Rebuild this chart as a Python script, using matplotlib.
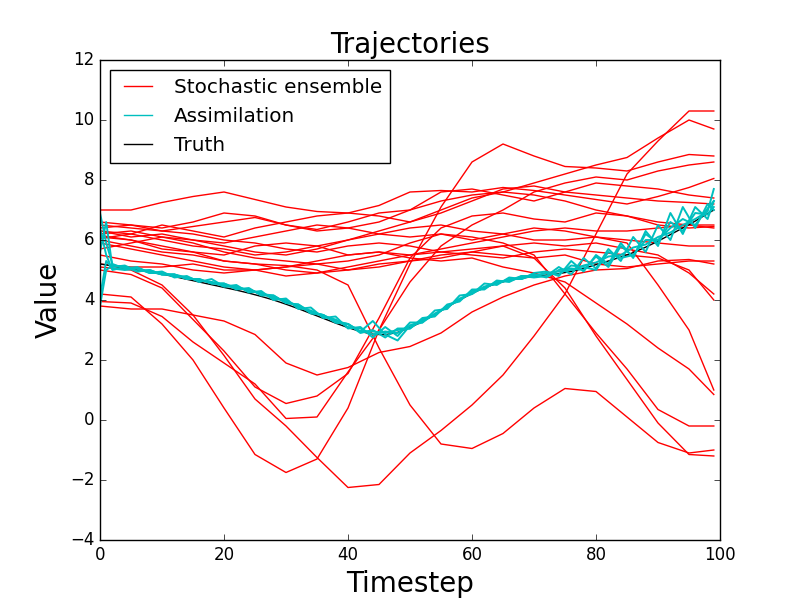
import matplotlib
matplotlib.use("Agg")
import matplotlib.pyplot as plt

plt.style.use("classic")

# ---- stochastic ensemble (read every 5 timesteps) ----
t_ens = list(range(0, 100, 5)) + [99]

ensemble = [
    [7.0, 7.0, 7.25, 7.45, 7.6, 7.35, 7.1, 6.95, 6.9, 7.15, 7.6, 7.65, 7.6, 7.75, 7.65, 7.5, 7.35, 7.2, 7.45, 7.75, 8.05],
    [6.5, 6.4, 6.3, 6.45, 6.6, 6.75, 6.5, 6.35, 6.6, 6.9, 7.0, 7.3, 7.5, 7.6, 7.9, 8.2, 8.5, 8.75, 9.4, 10.0, 9.7],
    [5.1, 5.0, 4.5, 3.5, 2.15, 0.7, -0.2, -1.25, -2.25, -2.15, -1.1, -0.35, 0.5, 1.5, 2.8, 4.2, 6.2, 8.2, 9.3, 10.3, 10.3],
    [4.2, 4.1, 3.2, 2.0, 0.4, -1.15, -1.75, -1.3, 0.4, 3.0, 5.2, 7.1, 8.6, 9.2, 8.8, 8.45, 8.4, 8.3, 8.6, 8.85, 8.8],
    [3.95, 3.9, 3.45, 2.6, 1.9, 1.2, 0.05, 0.1, 1.6, 3.0, 4.6, 5.8, 6.5, 7.0, 7.6, 7.9, 8.1, 8.0, 8.3, 8.5, 8.6],
    [5.0, 4.85, 4.4, 3.35, 2.3, 1.1, 0.55, 0.8, 1.55, 3.4, 5.4, 6.4, 6.8, 6.9, 6.7, 6.6, 6.9, 6.8, 6.5, 6.4, 6.45],
    [3.8, 3.7, 3.7, 3.5, 3.3, 2.85, 1.9, 1.5, 1.75, 2.25, 2.45, 2.9, 3.6, 4.1, 4.5, 4.8, 5.0, 5.05, 5.3, 5.35, 5.2],
    [6.0, 5.8, 5.6, 5.5, 5.3, 5.2, 5.15, 5.0, 4.5, 2.4, 0.5, -0.8, -0.95, -0.45, 0.4, 1.05, 0.95, 0.1, -0.75, -1.1, -1.0],
    [6.1, 6.0, 5.7, 5.6, 5.5, 5.8, 5.9, 5.8, 5.5, 5.6, 5.4, 5.3, 5.4, 5.1, 4.9, 4.6, 3.9, 3.2, 2.4, 1.7, 0.85],
    [6.3, 6.2, 6.0, 5.8, 5.7, 5.5, 5.6, 5.8, 6.0, 6.2, 6.4, 6.5, 6.3, 6.2, 6.0, 6.0, 6.1, 5.9, 4.5, 3.0, 1.0],
    [6.2, 6.3, 6.1, 5.9, 5.6, 5.4, 5.3, 5.2, 5.3, 5.5, 5.9, 6.2, 6.1, 5.9, 5.5, 4.2, 2.9, 1.7, 0.35, -0.2, -0.2],
    [5.5, 5.3, 5.2, 5.0, 4.9, 5.0, 5.1, 5.3, 5.5, 5.6, 5.5, 5.6, 5.7, 5.8, 5.4, 4.4, 2.8, 1.35, -0.1, -1.15, -1.2],
    [6.4, 6.5, 6.3, 6.2, 6.0, 5.9, 5.7, 5.6, 5.8, 5.9, 5.8, 5.6, 5.5, 5.4, 5.6, 5.7, 5.6, 5.5, 5.4, 5.0, 4.0],
    [5.2, 5.1, 5.1, 5.2, 5.0, 5.0, 5.1, 5.2, 5.0, 5.1, 5.3, 5.4, 5.6, 5.8, 5.9, 5.8, 5.9, 5.7, 5.5, 4.9, 4.2],
    [5.9, 5.7, 5.5, 5.3, 5.1, 5.0, 4.8, 4.9, 5.0, 5.2, 5.3, 5.5, 5.6, 5.5, 5.4, 5.5, 5.2, 5.1, 5.2, 5.3, 5.3],
    [6.15, 6.0, 5.8, 5.6, 5.3, 5.2, 5.0, 4.9, 5.1, 5.3, 5.5, 5.7, 5.9, 6.1, 6.3, 6.4, 6.3, 6.3, 6.4, 6.5, 6.5],
    [6.05, 6.2, 6.5, 6.3, 6.1, 6.4, 6.6, 6.8, 6.9, 6.8, 6.6, 6.9, 7.3, 7.7, 7.8, 7.6, 7.5, 7.4, 7.3, 7.25, 7.2],
    [6.3, 6.1, 6.2, 6.0, 5.9, 6.1, 6.3, 6.5, 6.4, 6.2, 6.1, 6.2, 6.0, 6.2, 6.4, 6.3, 6.1, 6.0, 5.9, 5.8, 5.8],
    [5.7, 5.9, 6.1, 6.0, 5.8, 5.6, 5.5, 5.7, 6.0, 6.3, 6.6, 7.0, 7.4, 7.6, 7.5, 7.3, 7.0, 6.8, 6.6, 6.5, 6.4],
    [6.6, 6.5, 6.4, 6.6, 6.9, 6.8, 6.5, 6.3, 6.4, 6.6, 7.0, 7.6, 7.7, 7.5, 7.3, 7.6, 7.9, 7.8, 7.7, 7.5, 7.4],
]

# ---- assimilation runs and truth ----
t_assim = [0, 1] + list(range(2, 71, 2)) + list(range(72, 99, 2)) + [99]

truth = [5.2, 5.17, 5.13, 5.06, 5.0, 4.93, 4.86, 4.78, 4.69, 4.6, 4.51, 4.42, 4.33,
         4.23, 4.12, 4.0, 3.86, 3.71, 3.55, 3.39, 3.23, 3.08, 2.95, 2.86, 2.84, 2.92,
         3.08, 3.28, 3.52, 3.76, 4.0, 4.22, 4.41, 4.55, 4.66, 4.73, 4.78,
         4.83, 4.88, 4.95, 5.05, 5.18, 5.3, 5.43, 5.58, 5.76, 5.96, 6.18, 6.4, 6.63, 6.88, 7.0]

assim = [
    [6.9, 5.9, 5.2, 5.05, 5.1, 4.9, 4.95, 4.75, 4.8, 4.6, 4.7, 4.45, 4.5,
     4.25, 4.3, 4.0, 4.05, 3.7, 3.75, 3.4, 3.45, 3.05, 3.1, 2.75, 3.1, 2.8,
     3.25, 3.25, 3.65, 3.7, 4.15, 4.2, 4.55, 4.5, 4.75, 4.7, 4.9,
     4.95, 4.8, 5.3, 4.95, 5.5, 5.2, 5.9, 5.4, 6.3, 5.8, 6.9, 6.2, 7.1, 6.7, 7.3],
    [3.8, 5.0, 5.15, 5.1, 4.95, 5.0, 4.85, 4.85, 4.7, 4.7, 4.55, 4.55, 4.35,
     4.4, 4.15, 4.15, 3.9, 3.85, 3.55, 3.5, 3.25, 3.2, 2.9, 3.0, 2.75, 3.05,
     3.05, 3.4, 3.45, 3.85, 3.95, 4.35, 4.35, 4.65, 4.6, 4.8, 4.75,
     4.8, 5.1, 4.85, 5.4, 5.05, 5.7, 5.3, 6.1, 5.6, 6.5, 6.0, 7.1, 6.4, 7.2, 7.0],
    [6.4, 5.5, 5.0, 5.1, 5.05, 4.95, 4.85, 4.85, 4.75, 4.65, 4.6, 4.5, 4.4,
     4.35, 4.2, 4.1, 3.95, 3.8, 3.6, 3.5, 3.3, 3.2, 2.95, 3.3, 2.85, 2.65,
     3.15, 3.3, 3.5, 3.8, 4.0, 4.3, 4.4, 4.6, 4.65, 4.8, 4.8,
     4.9, 4.95, 5.0, 5.15, 5.25, 5.45, 5.5, 5.75, 5.85, 6.1, 6.25, 6.5, 6.7, 6.95, 7.7],
    [4.1, 5.3, 5.05, 5.0, 5.05, 4.9, 4.9, 4.8, 4.75, 4.65, 4.6, 4.45, 4.45,
     4.3, 4.25, 4.05, 4.0, 3.75, 3.65, 3.45, 3.35, 3.1, 3.05, 2.85, 2.95, 2.9,
     3.15, 3.25, 3.55, 3.75, 4.05, 4.2, 4.45, 4.55, 4.7, 4.7, 4.85,
     4.75, 5.0, 5.05, 5.0, 5.45, 5.1, 5.8, 5.45, 6.2, 5.9, 6.6, 6.3, 6.9, 6.85, 7.1],
    [5.6, 6.6, 5.1, 5.15, 4.95, 5.0, 4.85, 4.85, 4.7, 4.7, 4.55, 4.55, 4.4,
     4.35, 4.2, 4.15, 3.9, 3.85, 3.6, 3.5, 3.25, 3.2, 2.95, 2.95, 2.9, 3.0,
     3.05, 3.35, 3.5, 3.8, 4.0, 4.25, 4.4, 4.6, 4.65, 4.75, 4.8,
     4.9, 4.85, 5.15, 5.1, 5.0, 5.6, 5.4, 5.5, 6.0, 6.0, 6.4, 6.7, 6.5, 7.05, 7.3],
]

fig, ax = plt.subplots(figsize=(8, 6), dpi=100)

for i, vals in enumerate(ensemble):
    ax.plot(t_ens, vals, color="r", lw=1,
            label="Stochastic ensemble" if i == 0 else None)

# truth sits under the assimilation band, as in the original
ax.plot(t_assim, truth, color="k", lw=1, label="Truth", zorder=2.1)

for i, vals in enumerate(assim):
    ax.plot(t_assim, vals, color="c", lw=1.4,
            label="Assimilation" if i == 0 else None, zorder=2.2)

ax.set_xlim(0, 100)
ax.set_ylim(-4, 12)
ax.set_title("Trajectories", fontsize=20)
ax.set_xlabel("Timestep", fontsize=20)
ax.set_ylabel("Value", fontsize=20)

handles, labels = ax.get_legend_handles_labels()
order = [labels.index(s) for s in ["Stochastic ensemble", "Assimilation", "Truth"]]
leg = ax.legend([handles[i] for i in order], [labels[i] for i in order],
                loc="upper left", borderpad=0.4)
for line in leg.get_lines():
    line.set_linewidth(1)

fig.savefig("out.png", dpi=100)
